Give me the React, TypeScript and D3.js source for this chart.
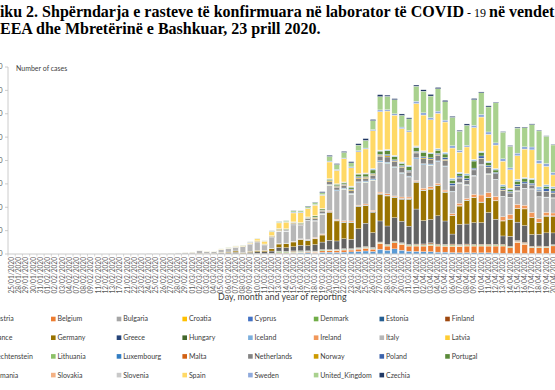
import React from 'react';
import * as d3 from 'd3';

// dates of reporting (category axis)
const dates = [
  '25/01/2020', '28/01/2020', '29/01/2020', '30/01/2020', '31/01/2020', '01/02/2020', '02/02/2020', '03/02/2020',
  '04/02/2020', '07/02/2020', '08/02/2020', '09/02/2020', '11/02/2020', '12/02/2020', '13/02/2020', '17/02/2020',
  '21/02/2020', '22/02/2020', '23/02/2020', '24/02/2020', '25/02/2020', '26/02/2020', '27/02/2020', '28/02/2020',
  '29/02/2020',
  '01/03/2020', '02/03/2020', '03/03/2020', '04/03/2020', '05/03/2020', '06/03/2020', '07/03/2020', '08/03/2020',
  '09/03/2020', '10/03/2020', '11/03/2020', '12/03/2020', '13/03/2020', '14/03/2020', '15/03/2020', '16/03/2020',
  '17/03/2020', '18/03/2020', '19/03/2020', '20/03/2020', '21/03/2020', '22/03/2020', '23/03/2020', '24/03/2020',
  '25/03/2020', '26/03/2020', '27/03/2020', '28/03/2020', '29/03/2020', '30/03/2020', '31/03/2020',
  '01/04/2020', '02/04/2020', '03/04/2020', '04/04/2020', '05/04/2020', '06/04/2020', '07/04/2020', '08/04/2020',
  '09/04/2020', '10/04/2020', '11/04/2020', '12/04/2020', '13/04/2020', '14/04/2020', '15/04/2020', '16/04/2020',
  '17/04/2020', '18/04/2020', '19/04/2020', '20/04/2020'
];

const pad = (vals: number[]) => [...new Array(dates.length - vals.length).fill(0), ...vals];

const austria = pad([5, 4, 3, 8, 17, 8, 27, 12, 30, 75, 24, 52, 115, 143, 151, 205, 314, 151, 355, 400,
  350, 400, 450, 550, 650, 550, 1000, 800, 1100, 800, 600, 550, 500, 500, 400, 400, 300, 250, 300, 250,
  250, 250, 200, 150, 100, 100, 100, 80, 70, 80, 80]);
const belgium = pad([1, 0, 6, 5, 49, 59, 60, 0, 28, 47, 33, 0, 160, 130, 197, 172, 185, 243, 309, 350,
  400, 450, 400, 500, 600, 500, 1200, 900, 1300, 1250, 1100, 1150, 1200, 1350, 1300, 1250, 1350, 1400, 1400, 1450,
  1450, 1450, 1500, 1550, 1250, 2400, 2000, 1300, 1300, 1300, 1650]);
const bulgaria = pad([5, 10, 10, 5, 10, 20, 10, 20, 20, 30, 20, 20, 30, 20, 20, 30, 30, 20, 20, 20,
  30, 20, 30, 30, 40, 20, 20, 30, 20, 40, 30, 30, 40, 20, 30, 20, 40, 30, 20, 30]);
const croatia = pad([5, 10, 20, 10, 5, 15, 20, 30, 40, 40, 50, 40, 70, 70, 60, 90, 70, 40, 60, 50,
  80, 60, 70, 60, 50, 70, 40, 50, 60, 40, 50, 40, 30, 30, 40, 30, 20, 30, 20, 20]);
const cyprus = pad([5, 5, 10, 10, 10, 20, 20, 20, 10, 20, 30, 20, 30, 10, 30, 20, 20, 30, 20, 20,
  20, 30, 20, 20, 10, 20, 10, 30, 20, 10, 20, 10, 20, 10, 20, 10, 10, 10, 10, 10]);
const denmark = pad([0, 0, 1, 1, 3, 6, 3, 10, 6, 3, 0, 33, 252, 200, 150, 160, 40, 120, 130, 50,
  50, 80, 80, 80, 100, 80, 120, 120, 140, 130, 130, 130, 130, 140, 140, 150, 170, 170, 130, 130,
  130, 140, 150, 140, 130, 100, 120, 120, 120, 120, 120]);
const estonia = pad([20, 40, 20, 30, 60, 40, 30, 40, 30, 40, 50, 40, 20, 40, 70, 50, 30, 70, 40, 60,
  50, 40, 60, 30, 40, 30, 30, 30, 40, 40, 20, 40, 30, 20, 30, 20, 20, 30, 20, 20]);
const finland = pad([0, 0, 1, 0, 3, 1, 0, 6, 4, 0, 10, 15, 40, 30, 109, 54, 48, 40, 52, 40,
  80, 60, 100, 70, 110, 80, 60, 100, 70, 80, 60, 120, 170, 220, 140, 120, 170, 130, 160, 120,
  130, 140, 120, 120, 90, 180, 220, 80, 120, 100, 80]);
const france = [3, 0, 1, 0, 1, 0, 0, 0, 0, 5, 0, 0, 1, 0, 0, 0, 0, 0, 0, 0, 2, 6, 20, 19, 43,
  30, 60, 100, 100, 150, 200, 300, 100, 290, 370, 400, 500, 800, 800, 900, 1200, 1100, 1400, 1600, 2000,
  1780, 2140, 2000, 4060, 5000, 3200, 4500, 3920, 5000, 4630, 3920, 7490, 5000, 5000, 6060, 5000, 2140, 4280, 4280, 4630,
  4630, 6770, 5350, 1780, 2140, 3920, 3560, 2500, 2500, 2850, 2500];
const germany = [0, 4, 0, 0, 1, 3, 0, 2, 2, 2, 1, 0, 2, 2, 0, 0, 2, 0, 0, 0, 0, 2, 8, 12, 26,
  50, 80, 60, 60, 150, 150, 250, 150, 230, 270, 300, 500, 700, 900, 1000, 1200, 1100, 1200, 1500, 6000,
  4280, 3420, 3560, 4700, 3700, 4280, 5700, 6420, 4280, 4630, 5700, 5700, 6420, 6400, 6420, 6060, 3920, 3920, 5000, 5350,
  4280, 3200, 3920, 3200, 3560, 2850, 3560, 3560, 2500, 3560, 3560];
const greece = pad([20, 35, 30, 40, 30, 50, 60, 40, 50, 30, 70, 20, 100, 60, 100, 80, 50, 30, 90, 60,
  60, 30, 40, 40, 60, 30, 60, 50, 30, 20, 20, 20, 15, 20, 25, 10, 20, 20, 30, 20]);
const hungary = pad([2, 3, 6, 5, 11, 7, 19, 12, 28, 34, 17, 38, 43, 35, 39, 36, 50, 40, 60, 70,
  60, 45, 80, 70, 70, 40, 30, 60, 50, 80, 60, 70, 50, 100, 70, 50, 80, 60, 100, 80]);
const iceland = pad([20, 30, 40, 60, 50, 80, 50, 60, 70, 80, 100, 80, 90, 70, 100, 60, 80, 100, 90, 80,
  60, 40, 30, 50, 40, 30, 30, 20, 15, 20, 10, 10, 10, 15, 10, 5, 5, 10, 5, 5]);
const ireland = pad([0, 0, 1, 0, 1, 2, 6, 5, 9, 10, 27, 20, 39, 0, 54, 74, 95, 191, 126, 196,
  225, 204, 219, 121, 235, 255, 302, 294, 200, 295, 325, 212, 402, 424, 370, 390, 365, 500, 345, 600,
  1500, 1000, 850, 850, 990, 830, 730, 1070, 780, 700, 600]);
const italy = [0, 0, 0, 0, 2, 0, 0, 0, 0, 0, 0, 0, 0, 0, 0, 0, 1, 17, 42, 93, 78, 70, 150, 190, 220,
  300, 560, 350, 350, 590, 770, 780, 1250, 1490, 1800, 980, 2300, 2650, 2550, 3500, 2800, 4000, 3500, 4200, 5400,
  6060, 6770, 5700, 4780, 4630, 6420, 6420, 6420, 6060, 5000, 4280, 4630, 5000, 4630, 4630, 5000, 4630, 4280, 2850, 3920,
  6420, 3920, 3560, 4280, 3560, 2850, 3560, 5000, 4630, 3200, 3200];
const latvia = pad([10, 10, 10, 10, 20, 20, 20, 20, 20, 20, 10, 20, 30, 20, 20, 10, 20, 20, 30, 20,
  20, 20, 20, 20, 10, 20, 10, 20, 10, 10, 10, 10, 10, 10, 20, 10, 10, 10, 10, 10]);
const liechtenstein = pad([1, 1, 2, 2, 3, 1, 2, 3, 5, 2, 3, 2, 1, 2, 1, 3, 2, 2, 1, 1,
  0, 1, 2, 1, 0, 1, 0, 1, 1, 0, 0, 1, 0, 0, 1, 0, 1, 0, 0, 0]);
const lithuania = pad([5, 10, 10, 20, 20, 30, 40, 40, 60, 40, 70, 30, 40, 50, 60, 40, 90, 50, 40, 50,
  30, 40, 30, 30, 60, 40, 30, 50, 60, 20, 40, 40, 30, 40, 40, 30, 20, 30, 20, 20]);
const luxembourg = pad([0, 0, 0, 0, 1, 1, 2, 0, 2, 2, 5, 7, 4, 17, 26, 12, 59, 67, 115, 100,
  130, 150, 160, 130, 200, 180, 200, 230, 100, 140, 120, 200, 150, 200, 100, 80, 100, 100, 90, 70,
  80, 60, 70, 50, 40, 50, 40, 50, 30, 40, 30]);
const malta = pad([2, 3, 5, 5, 10, 10, 10, 5, 10, 10, 10, 20, 10, 10, 10, 20, 10, 5, 10, 10,
  10, 10, 10, 5, 5, 10, 5, 5, 5, 5, 5, 5, 2, 5, 5, 2, 5, 5, 2, 5]);
const netherlands = pad([5, 10, 20, 10, 30, 40, 50, 60, 80, 120, 150, 190, 150, 200, 270, 280, 350, 400, 500, 550,
  600, 600, 550, 650, 550, 800, 1000, 1100, 1150, 1100, 850, 1000, 1050, 900, 1200, 1200, 1100, 950, 800, 1150,
  1300, 1350, 1150, 1250, 900, 850, 950, 750, 1050, 1200, 950]);
const norway = pad([0, 4, 0, 8, 15, 30, 23, 44, 70, 100, 175, 125, 210, 110, 130, 100, 50, 230, 150, 200,
  180, 180, 200, 230, 250, 220, 200, 270, 150, 180, 130, 160, 200, 170, 150, 200, 100, 100, 70, 100,
  50, 60, 60, 80, 70, 80, 50, 60, 70, 50, 80]);
const poland = pad([0, 0, 0, 0, 1, 1, 2, 6, 7, 5, 11, 9, 21, 26, 22, 31, 36, 56, 74, 70,
  110, 110, 150, 200, 115, 150, 170, 250, 190, 220, 240, 200, 250, 250, 240, 400, 470, 350, 380, 300,
  470, 340, 260, 270, 270, 380, 340, 330, 270, 520, 400]);
const portugal = pad([0, 0, 2, 2, 5, 5, 7, 12, 10, 19, 26, 40, 78, 112, 86, 117, 196, 260, 233, 300,
  350, 300, 400, 550, 580, 750, 700, 800, 650, 450, 750, 800, 950, 850, 700, 750, 650, 450, 700, 1500,
  700, 600, 500, 550, 350, 700, 650, 750, 180, 500, 550]);
const romania = pad([0, 0, 0, 0, 0, 2, 0, 0, 0, 6, 5, 11, 20, 13, 25, 42, 19, 50, 57, 60,
  30, 50, 150, 70, 150, 240, 150, 200, 250, 250, 260, 250, 250, 200, 320, 350, 400, 300, 300, 350,
  290, 300, 280, 300, 330, 400, 270, 300, 500, 330, 350]);
const slovakia = pad([10, 10, 10, 20, 10, 20, 40, 40, 20, 30, 40, 40, 30, 40, 50, 40, 70, 40, 20, 30,
  80, 40, 40, 30, 40, 40, 30, 20, 30, 40, 30, 30, 30, 30, 30, 20, 20, 20, 20, 30]);
const slovenia = pad([20, 40, 10, 40, 40, 30, 20, 30, 40, 30, 30, 50, 30, 40, 40, 40, 30, 40, 60, 40,
  30, 40, 30, 40, 30, 30, 20, 20, 20, 20, 20, 20, 20, 20, 10, 20, 10, 10, 20, 10]);
const spain = [0, 0, 0, 0, 0, 1, 0, 0, 0, 0, 1, 0, 0, 0, 0, 0, 0, 0, 0, 0, 0, 3, 6, 5, 17,
  30, 40, 40, 50, 60, 100, 170, 150, 200, 400, 600, 800, 1200, 1400, 1900, 2100, 1800, 2200, 2800, 3560,
  2850, 5000, 3900, 4630, 5130, 8060, 8200, 8200, 8560, 7130, 7130, 9060, 7630, 7000, 7490, 6420, 6420, 4280, 5700, 6770,
  7270, 5700, 5000, 5000, 3920, 5000, 6060, 6060, 5000, 3920, 2500];
const sweden = pad([0, 7, 0, 2, 5, 20, 12, 40, 101, 60, 48, 77, 100, 100, 200, 150, 90, 140, 150, 200,
  200, 120, 190, 250, 200, 240, 380, 300, 300, 330, 290, 500, 480, 460, 480, 420, 500, 420, 360, 460,
  550, 510, 470, 500, 400, 560, 500, 620, 670, 600, 560]);
const unitedKingdom = [0, 0, 0, 0, 0, 2, 0, 0, 0, 0, 0, 1, 4, 1, 0, 0, 0, 0, 0, 0, 4, 0, 0, 3, 2,
  10, 15, 10, 20, 30, 50, 50, 50, 60, 50, 80, 100, 150, 200, 250, 250, 300, 400, 400, 1000,
  1070, 1200, 860, 1200, 1640, 1920, 2850, 2850, 3000, 2500, 2500, 3200, 4630, 4630, 4780, 3920, 6060, 4060, 4280, 5490,
  4630, 5350, 8560, 5700, 4630, 5350, 4060, 4780, 6270, 5850, 5850];
const czechia = pad([0, 3, 0, 2, 0, 3, 7, 6, 9, 6, 5, 51, 33, 24, 91, 48, 106, 80, 210, 230,
  180, 210, 260, 300, 380, 250, 410, 260, 250, 300, 240, 260, 300, 350, 280, 300, 220, 200, 290, 270,
  190, 240, 170, 120, 150, 210, 140, 160, 170, 90, 120]);

const countries = ['Austria', 'Belgium', 'Bulgaria', 'Croatia', 'Cyprus', 'Denmark', 'Estonia', 'Finland',
  'France', 'Germany', 'Greece', 'Hungary', 'Iceland', 'Ireland', 'Italy', 'Latvia',
  'Liechtenstein', 'Lithuania', 'Luxembourg', 'Malta', 'Netherlands', 'Norway', 'Poland', 'Portugal',
  'Romania', 'Slovakia', 'Slovenia', 'Spain', 'Sweden', 'United_Kingdom', 'Czechia'];
const values = [austria, belgium, bulgaria, croatia, cyprus, denmark, estonia, finland,
  france, germany, greece, hungary, iceland, ireland, italy, latvia,
  liechtenstein, lithuania, luxembourg, malta, netherlands, norway, poland, portugal,
  romania, slovakia, slovenia, spain, sweden, unitedKingdom, czechia];
const colors = ['#5B9BD5', '#ED7D31', '#A5A5A5', '#FFC000', '#4472C4', '#70AD47', '#255E91', '#9E480E',
  '#636363', '#997300', '#264478', '#43682B', '#7CAFDD', '#F1975A', '#B7B7B7', '#FFCD33',
  '#698ED0', '#8CC168', '#327DC2', '#D26012', '#848484', '#CC9A00', '#3C63AC', '#5A8A39',
  '#9DC3E6', '#F4B183', '#C9C9C9', '#FFD966', '#8FAADC', '#A9D18E', '#203864'];
const yTicks = [0, 5000, 10000, 15000, 20000, 25000, 30000, 35000, 40000];

const sans = 'Lato, "Open Sans", sans-serif';
const serif = '"Liberation Serif", "Times New Roman", serif';

export default function App() {
  const rows = dates.map((d, i) => {
    const r: any = { date: d };
    countries.forEach((c, k) => { r[c] = values[k][i]; });
    return r;
  });
  const stacked = d3.stack<any>().keys(countries)(rows);

  const step = 7.226;
  const x = d3.scaleBand<string>().domain(dates)
    .range([8, 8 + dates.length * step]).paddingInner(0.24).paddingOuter(0.12);
  const y = d3.scaleLinear().domain([0, 40000]).range([254, 67]);

  return (
    <svg width={555} height={390} style={{ position: 'absolute', left: 0, top: 0, background: '#fff' }}>
      <text x={-33} y={17} fontFamily={serif} fontWeight="bold" fontSize={16} fill="#000">
        Grafiku 2. Shpërndarja e rasteve të konfirmuara në laborator të COVID
        <tspan fontWeight="normal" fontSize={12}> - 19 </tspan>
        në vendet e
      </text>
      <text x={0} y={34} fontFamily={serif} fontWeight="bold" fontSize={16} fill="#000">
        EEA dhe Mbretërinë e Bashkuar, 23 prill 2020.
      </text>

      <text x={16} y={71} fontFamily={sans} fontSize={7} fill="#404040">Number of cases</text>

      {/* y axis */}
      <line x1={8} x2={8} y1={y(40000)} y2={y(0)} stroke="#bfbfbf" strokeWidth={0.8} />
      {yTicks.map(t => (
        <g key={t}>
          <line x1={5} x2={8} y1={y(t)} y2={y(t)} stroke="#bfbfbf" strokeWidth={0.8} />
          <text x={2.5} y={y(t)} dy="0.35em" textAnchor="end" fontFamily={sans} fontSize={7} fill="#595959">{t}</text>
        </g>
      ))}

      {/* bars */}
      {stacked.map((layer, k) => (
        <g key={layer.key} fill={colors[k]}>
          {layer.map((d, i) => {
            const h = y(d[0]) - y(d[1]);
            if (h <= 0) return null;
            return <rect key={i} x={x(dates[i])} y={y(d[1])} width={x.bandwidth()} height={h}
              stroke="#fff" strokeWidth={0.3} />;
          })}
        </g>
      ))}

      {/* x axis */}
      <line x1={8} x2={555} y1={y(0)} y2={y(0)} stroke="#bfbfbf" strokeWidth={0.8} />
      {dates.map((d, i) => (
        <line key={'t' + i} x1={8 + i * step} x2={8 + i * step} y1={y(0)} y2={y(0) + 2.5} stroke="#bfbfbf" strokeWidth={0.6} />
      ))}
      {dates.map(d => (
        <text key={d} transform={`translate(${(x(d) as number) + x.bandwidth() / 2},257) rotate(-90)`}
          dy="0.35em" textAnchor="end" fontFamily={sans} fontSize={6.6} fill="#595959">{d}</text>
      ))}
      <text x={218} y={300} fontFamily={sans} fontSize={8.9} fill="#404040">Day, month and year of reporting</text>

      {/* legend */}
      {countries.map((c, i) => {
        const col = i % 8, row = Math.floor(i / 8);
        const lx = 51 + (col - 1) * 65.7;
        const ly = 319 + row * 18.7;
        return (
          <g key={c}>
            <rect x={lx} y={ly - 2.3} width={4.6} height={4.6} fill={colors[i]} />
            <text x={lx + 6.5} y={ly} dy="0.35em" fontFamily={sans} fontSize={7} fill="#404040">{c}</text>
          </g>
        );
      })}
    </svg>
  );
}
